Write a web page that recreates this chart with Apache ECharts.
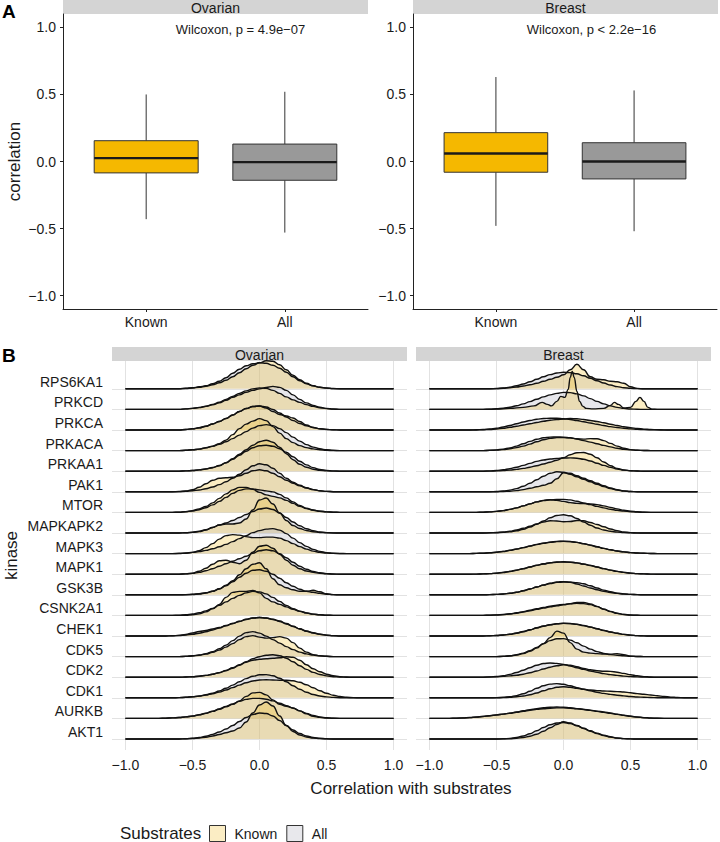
<!DOCTYPE html>
<html><head><meta charset="utf-8">
<script src="https://cdn.jsdelivr.net/npm/echarts@6.0.0/dist/echarts.min.js"></script>
<style>html,body{margin:0;padding:0;background:#fff}#c{width:720px;height:842px}</style>
</head><body><div id="c"></div>
<script>
// ---------------- data ----------------
const tissues = ['Ovarian', 'Breast'];
const boxGroups = ['Known', 'All'];
// [lower whisker, Q1, median, Q3, upper whisker]
const boxOvarianKnown = [-0.43, -0.085, 0.025, 0.155, 0.50];
const boxOvarianAll   = [-0.53, -0.14, -0.005, 0.13, 0.52];
const boxBreastKnown  = [-0.48, -0.08, 0.06, 0.215, 0.63];
const boxBreastAll    = [-0.52, -0.13, 0.0, 0.14, 0.53];
const wilcoxonLabels = ['Wilcoxon, p = 4.9e\u221207', 'Wilcoxon, p < 2.2e\u221216'];
const yTicksA = [-1, -0.5, 0, 0.5, 1];
const xTicksB = [-1, -0.5, 0, 0.5, 1];
const kinases = ['RPS6KA1','PRKCD','PRKCA','PRKACA','PRKAA1','PAK1','MTOR','MAPKAPK2','MAPK3','MAPK1','GSK3B','CSNK2A1','CHEK1','CDK5','CDK2','CDK1','AURKB','AKT1'];
const densityX = [-1,-0.95,-0.9,-0.85,-0.8,-0.75,-0.7,-0.65,-0.6,-0.55,-0.5,-0.45,-0.4,-0.35,-0.3,-0.25,-0.2,-0.15,-0.1,-0.05,0,0.05,0.1,0.15,0.2,0.25,0.3,0.35,0.4,0.45,0.5,0.55,0.6,0.65,0.7,0.75,0.8,0.85,0.9,0.95,1];

// density of each kinase (rows in kinases order) on densityX
const ovarianKnown = [
[0,0,0,0,0,0,0,0, 0,.03,.08,.15,.25,.4,.6,.85,1.2,1.6,2,2.35, 2.6,2.8,2.75,2.4,1.9,1.35,.9,.55,.3,.15,.07,.02, 0,0,0,0,0,0,0,0,0],
[0,0,0,0,0,0,0,0, 0,.05,.1,.2,.32,.5,.72,1,1.3,1.6,1.85,2.05, 2.15,2.1,1.9,1.6,1.25,.95,.7,.48,.3,.17,.08,.03, 0,0,0,0,0,0,0,0,0],
[0,0,0,0,0,0,0,0, 0,.05,.12,.22,.38,.6,.85,1.15,1.5,1.85,2.15,2.35, 2.4,2.2,1.85,1.55,1.4,1.2,.85,.5,.25,.12,.05,.02, 0,0,0,0,0,0,0,0,0],
[0,0,0,0,0,0,0,0, 0,.03,.08,.15,.28,.45,.7,1.05,1.6,2.2,2.65,2.95, 3.2,3,2.4,1.75,1.2,.8,.5,.3,.17,.08,.03,0, 0,0,0,0,0,0,0,0,0],
[0,0,0,0,0,0,0,0, 0,.03,.07,.13,.22,.35,.55,.85,1.25,1.7,2.15,2.6, 2.95,3.1,2.9,2.4,1.75,1.15,.7,.4,.2,.1,.04,.01, 0,0,0,0,0,0,0,0,0],
[0,0,0,0,0,0,0,0, .03,.08,.2,.45,.8,1.15,1.35,1.4,1.45,1.6,1.85,2.1, 2.2,2.1,1.85,1.5,1.15,.85,.6,.38,.22,.1,.04,.01, 0,0,0,0,0,0,0,0,0],
[0,0,0,0,0,0,0,0, .03,.08,.18,.35,.6,.95,1.4,1.85,2.25,2.5,2.5,2.3, 2,1.75,1.6,1.45,1.2,.9,.6,.38,.22,.12,.05,.02, 0,0,0,0,0,0,0,0,0],
[0,0,0,0,0,0,0,0, 0,.02,.06,.14,.3,.55,.8,.9,.9,1,1.4,2.3, 3.3,3.5,2.9,2,1.25,.75,.45,.25,.12,.05,.02,0, 0,0,0,0,0,0,0,0,0],
[0,0,0,0,0,0,0,0, 0,.04,.12,.3,.6,1,1.45,1.8,1.9,1.85,1.7,1.6, 1.6,1.65,1.65,1.55,1.3,1,.7,.45,.25,.12,.05,.02, 0,0,0,0,0,0,0,0,0],
[0,0,0,0,0,0,0,0, 0,.03,.1,.3,.6,1,1.35,1.4,1.2,1.05,1.4,2.2, 2.8,2.9,2.6,2,1.4,.9,.55,.32,.18,.09,.04,.01, 0,0,0,0,0,0,0,0,0],
[0,0,0,0,0,0,0,0, 0,0,.03,.08,.18,.35,.6,.95,1.4,2,2.6,3.05, 3.2,2.6,1.6,1,.7,.5,.35,.35,.45,.3,.1,.02, 0,0,0,0,0,0,0,0,0],
[0,0,0,0,0,0,0,0, 0,.02,.06,.15,.35,.65,1.1,1.8,2.3,2.4,2.4,2.5, 2.25,1.7,1.35,1.1,.85,.6,.4,.24,.13,.06,.02,0, 0,0,0,0,0,0,0,0,0],
[0,0,0,0,0,0,0,.02, .06,.15,.3,.45,.55,.7,.85,1.05,1.25,1.45,1.65,1.8, 1.85,1.8,1.65,1.45,1.2,.95,.7,.48,.3,.17,.08,.03, 0,0,0,0,0,0,0,0,0],
[0,0,0,0,0,0,0,0, 0,.02,.06,.13,.25,.42,.65,.95,1.3,1.7,2,2.1, 1.95,1.85,1.9,2,1.85,1.4,.85,.45,.2,.08,.03,0, 0,0,0,0,0,0,0,0,0],
[0,0,0,0,0,0,0,0, 0,.02,.05,.1,.18,.3,.45,.65,.9,1.2,1.5,1.7, 1.8,1.85,1.9,1.95,2.05,2,1.7,1.25,.85,.55,.3,.14, .05,.02,0,0,0,0,0,0,0],
[0,0,0,0,0,0,0,0, .02,.05,.1,.17,.27,.4,.57,.78,1.02,1.27,1.5,1.68, 1.78,1.8,1.78,1.75,1.75,1.7,1.55,1.3,1,.7,.45,.26, .13,.05,.02,0,0,0,0,0,0],
[0,0,0,0,0,0,.02,.05, .09,.15,.23,.35,.5,.7,.92,1.15,1.4,1.75,2.2,2.55, 2.6,2.35,1.85,1.4,1.2,1.05,.75,.45,.22,.1,.04,.01, 0,0,0,0,0,0,0,0,0],
[0,0,0,0,0,0,0,0, 0,.02,.05,.1,.18,.3,.45,.62,.8,1.1,1.7,2.6, 3.4,3.7,3.3,2.3,1.35,.75,.4,.2,.1,.04,.01,0, 0,0,0,0,0,0,0,0,0]
];
const ovarianAll = [
[0,0,0,0,0,0,0,0, 0,.05,.1,.2,.3,.5,.75,1.1,1.55,1.95,2.3,2.5, 2.6,2.55,2.35,2.05,1.65,1.2,.8,.5,.3,.15,.08,.03, 0,0,0,0,0,0,0,0,0],
[0,0,0,0,0,0,0,0, 0,.05,.1,.18,.3,.45,.65,.9,1.2,1.45,1.7,1.9, 2.05,2.2,2.3,2.2,1.9,1.45,1,.65,.4,.22,.1,.04, 0,0,0,0,0,0,0,0,0],
[0,0,0,0,0,0,0,0, 0,.05,.12,.22,.38,.6,.85,1.15,1.5,1.85,2.15,2.35, 2.4,2.3,2.05,1.7,1.3,.95,.65,.42,.25,.13,.06,.02, 0,0,0,0,0,0,0,0,0],
[0,0,0,0,0,0,0,0, 0,.03,.08,.15,.27,.42,.62,.88,1.2,1.55,1.9,2.25, 2.5,2.6,2.5,2.2,1.8,1.35,.95,.6,.35,.18,.08,.03, 0,0,0,0,0,0,0,0,0],
[0,0,0,0,0,0,0,0, 0,.03,.07,.13,.23,.37,.57,.85,1.2,1.6,2,2.35, 2.55,2.6,2.5,2.25,1.9,1.45,1,.63,.36,.18,.08,.03, 0,0,0,0,0,0,0,0,0],
[0,0,0,0,0,0,0,0, .02,.05,.1,.18,.3,.48,.72,1,1.35,1.75,2.2,2.6, 2.8,2.7,2.35,1.85,1.35,.95,.65,.4,.22,.1,.04,.01, 0,0,0,0,0,0,0,0,0],
[0,0,0,0,0,0,0,0, .02,.06,.14,.27,.47,.75,1.1,1.5,1.9,2.2,2.35,2.35, 2.25,2.15,2.05,1.8,1.45,1.05,.7,.42,.24,.12,.05,.02, 0,0,0,0,0,0,0,0,0],
[0,0,0,0,0,0,0,0, 0,.03,.08,.17,.33,.55,.8,1,1.25,1.55,1.85,2.15, 2.4,2.5,2.35,2,1.55,1.1,.72,.43,.23,.11,.04,.01, 0,0,0,0,0,0,0,0,0],
[0,0,0,0,0,0,0,0, .03,.06,.12,.2,.32,.48,.68,.92,1.2,1.5,1.8,2.1, 2.3,2.45,2.5,2.35,2,1.55,1.1,.72,.42,.22,.1,.04, .01,0,0,0,0,0,0,0,0],
[0,0,0,0,0,0,0,0, 0,.03,.08,.18,.34,.55,.8,1.05,1.3,1.55,1.8,2.1, 2.35,2.45,2.35,2.05,1.65,1.2,.8,.5,.28,.14,.06,.02, 0,0,0,0,0,0,0,0,0],
[0,0,0,0,0,0,0,0, 0,.02,.05,.11,.2,.35,.58,.9,1.3,1.75,2.15,2.45, 2.5,2.35,2.05,1.65,1.2,.85,.55,.35,.25,.15,.06,.02, 0,0,0,0,0,0,0,0,0],
[0,0,0,0,0,0,0,0, .03,.07,.14,.26,.45,.7,1,1.35,1.7,2,2.25,2.4, 2.35,2.15,1.8,1.4,1,.68,.43,.25,.13,.06,.02,0, 0,0,0,0,0,0,0,0,0],
[0,0,0,0,0,0,0,.02, .05,.1,.18,.28,.42,.6,.8,1.02,1.25,1.47,1.67,1.8, 1.85,1.8,1.68,1.5,1.25,.98,.72,.5,.32,.18,.09,.04, 0,0,0,0,0,0,0,0,0],
[0,0,0,0,0,0,0,0, 0,.03,.08,.16,.3,.5,.78,1.15,1.6,2.05,2.4,2.5, 2.35,2.05,1.7,1.35,1,.7,.45,.27,.15,.07,.03,0, 0,0,0,0,0,0,0,0,0],
[0,0,0,0,0,0,0,0, 0,.02,.05,.1,.18,.3,.46,.68,.95,1.25,1.55,1.85, 2.05,2.2,2.25,2.15,1.9,1.55,1.15,.78,.48,.27,.13,.05, .02,0,0,0,0,0,0,0,0],
[0,0,0,0,0,0,0,0, .02,.05,.1,.18,.3,.46,.68,.95,1.27,1.6,1.92,2.15, 2.3,2.32,2.2,1.95,1.6,1.2,.85,.55,.33,.18,.09,.04, .01,0,0,0,0,0,0,0,0],
[0,0,0,0,0,0,.02,.05, .09,.15,.24,.36,.52,.72,.95,1.2,1.45,1.7,1.9,2, 2,1.92,1.75,1.52,1.28,1.02,.75,.5,.3,.15,.06,.02, 0,0,0,0,0,0,0,0,0],
[0,0,0,0,0,0,0,0, 0,.03,.07,.15,.28,.46,.7,1,1.35,1.75,2.15,2.45, 2.6,2.55,2.3,1.85,1.35,.9,.55,.3,.15,.07,.03,0, 0,0,0,0,0,0,0,0,0]
];
const breastKnown = [
[0,0,0,0,0,0,0,0, 0,0,.02,.05,.1,.18,.28,.4,.55,.75,.95,1.15, 1.4,1.9,2.45,1.9,1.2,.95,.9,.75,.7,.55,.2,.04, 0,0,0,0,0,0,0,0,0],
null, // PRKCD: sharp, irregular curve, stored on its own grid below
[0,0,0,0,0,0,0,0, .02,.05,.1,.17,.27,.38,.5,.62,.75,.88,.98,1.05, 1.1,1.15,1.13,1.05,.95,.85,.72,.58,.45,.33,.23,.15, .09,.05,.03,.01,0,0,0,0,0],
[0,0,0,0,0,0,0,0, 0,.02,.05,.1,.18,.3,.45,.65,.88,1.08,1.22,1.3, 1.3,1.27,1.18,1.15,1.2,1.18,1,.72,.45,.24,.1,.04, .01,0,0,0,0,0,0,0,0],
[0,0,0,0,0,0,0,0, 0,.01,.03,.06,.11,.18,.28,.4,.55,.72,.9,1.1, 1.35,1.65,1.85,1.87,1.7,1.35,.92,.55,.28,.12,.05,.02, 0,0,0,0,0,0,0,0,0],
[0,0,0,0,0,0,0,0, 0,0,.01,.03,.06,.12,.22,.35,.5,.65,.85,1.3, 1.9,1.85,1.6,1.35,1.1,.85,.6,.38,.2,.09,.03,0, 0,0,0,0,0,0,0,0,0],
[0,0,0,0,0,0,0,0, .02,.05,.1,.18,.3,.45,.65,.85,1.05,1.2,1.27,1.22, 1.1,.98,.9,.88,.85,.78,.65,.5,.35,.22,.12,.06, .02,0,0,0,0,0,0,0,0],
[0,0,0,0,0,0,0,0, 0,.02,.05,.1,.18,.3,.47,.68,.9,1.1,1.22,1.2, 1.12,1.15,1.25,1.22,1.05,.85,.62,.4,.22,.1,.04,.01, 0,0,0,0,0,0,0,0,0],
[0,0,0,0,0,0,0,.02, .04,.07,.13,.21,.32,.45,.6,.76,.92,1.05,1.15,1.22, 1.24,1.21,1.12,.99,.84,.68,.52,.38,.26,.17,.1,.06, .03,.01,0,0,0,0,0,0,0],
[0,0,0,0,0,0,0,.01, .03,.06,.1,.17,.27,.4,.55,.72,.89,1.04,1.15,1.22, 1.24,1.21,1.13,1.01,.87,.72,.56,.41,.28,.18,.11,.06, .03,.01,0,0,0,0,0,0,0],
[0,0,0,0,0,0,0,0, 0,.02,.04,.08,.15,.25,.4,.58,.78,.98,1.15,1.28, 1.32,1.25,1.08,.88,.68,.5,.35,.23,.14,.08,.04,.02, 0,0,0,0,0,0,0,0,0],
[0,0,0,0,0,0,0,0, 0,.02,.04,.08,.14,.22,.33,.46,.6,.73,.85,.95, 1.05,1.18,1.3,1.3,1.15,.9,.62,.38,.2,.09,.03,.01, 0,0,0,0,0,0,0,0,0],
[0,0,0,0,0,0,0,0, 0,.02,.05,.1,.17,.28,.42,.6,.8,.98,1.12,1.22, 1.27,1.25,1.17,1.05,.9,.73,.56,.4,.27,.16,.09,.04, .01,0,0,0,0,0,0,0,0],
[0,0,0,0,0,0,0,0, 0,0,0,.02,.06,.15,.3,.52,.85,1.3,1.9,2.55, 2.35,1.4,.75,.45,.35,.3,.25,.25,.3,.2,.05,.01, 0,0,0,0,0,0,0,0,0],
[0,0,0,0,0,0,0,0, 0,.02,.04,.08,.13,.2,.3,.45,.62,.82,1,1.15, 1.25,1.2,1.05,.88,.75,.65,.6,.58,.5,.38,.25,.14, .06,.02,0,0,0,0,0,0,0],
[0,0,0,0,0,0,0,0, 0,0,0,.02,.05,.1,.18,.3,.48,.7,.9,1.05, 1.1,1.05,.95,.85,.78,.72,.68,.65,.62,.58,.5,.42, .35,.28,.2,.13,.07,.03,.01,0,0],
[0,0,0,0,.02,.05,.09,.14, .2,.27,.35,.43,.52,.62,.72,.82,.9,.97,1.02,1.05, 1.05,1.02,.97,.9,.82,.73,.64,.54,.43,.32,.22,.14, .08,.04,.02,0,0,0,0,0,0],
[0,0,0,0,0,0,0,0, 0,0,0,.01,.03,.07,.15,.28,.48,.78,1.12,1.45, 1.72,1.6,1.35,1.08,.82,.58,.38,.22,.1,.04,.01,0, 0,0,0,0,0,0,0,0,0]
];
const breastKnownPrkcdX = [-1,-0.6,-0.5,-0.4,-0.3,-0.22,-0.16,-0.12,-0.09,-0.05,-0.02,0.01,0.035,0.05,0.065,0.08,0.1,0.12,0.145,0.17,0.22,0.3,0.35,0.38,0.41,0.45,0.5,0.54,0.57,0.6,0.63,0.66,0.7,1];
const breastKnownPrkcdY = [0,0,.03,.1,.2,.35,.7,.5,.35,.8,1.3,1.2,2,3.2,3.8,3.2,1.8,.8,.3,.1,.05,.1,.4,.7,.5,.15,.2,.8,1.2,.8,.2,.02,0,0];
const breastAll = [
[0,0,0,0,0,0,0,0, 0,0,.03,.08,.17,.3,.48,.7,.95,1.2,1.42,1.58, 1.65,1.62,1.5,1.3,1.05,.8,.58,.38,.22,.11,.05,.02, 0,0,0,0,0,0,0,0,0],
[0,0,0,0,0,0,0,0, 0,.02,.06,.12,.22,.36,.55,.78,1.02,1.25,1.45,1.6, 1.7,1.68,1.55,1.35,1.08,.8,.55,.35,.2,.1,.04,.01, 0,0,0,0,0,0,0,0,0],
[0,0,0,0,0,0,0,.02, .05,.1,.18,.3,.45,.62,.8,.95,1.07,1.15,1.18,1.17, 1.12,1.05,.95,.83,.7,.58,.45,.34,.25,.17,.11,.07, .04,.02,.01,0,0,0,0,0,0],
[0,0,0,0,0,0,0,0, 0,.03,.07,.15,.27,.45,.68,.92,1.13,1.28,1.35,1.37, 1.35,1.28,1.15,1,.85,.68,.52,.37,.24,.14,.07,.03, .01,0,0,0,0,0,0,0,0],
[0,0,0,0,0,0,0,0, 0,.03,.07,.14,.25,.4,.58,.78,.98,1.12,1.22,1.28, 1.32,1.33,1.3,1.2,1.02,.8,.58,.38,.22,.11,.05,.02, 0,0,0,0,0,0,0,0,0],
[0,0,0,0,0,0,0,0, 0,0,.03,.08,.17,.32,.55,.85,1.2,1.55,1.85,2, 1.95,1.75,1.5,1.25,1,.75,.52,.33,.18,.08,.03,0, 0,0,0,0,0,0,0,0,0],
[0,0,0,0,0,0,0,0, .02,.05,.1,.18,.3,.45,.65,.85,1.05,1.18,1.25,1.3, 1.3,1.25,1.12,.95,.78,.6,.45,.32,.21,.13,.07,.03, .01,0,0,0,0,0,0,0,0],
[0,0,0,0,0,0,0,0, 0,.01,.03,.06,.12,.22,.38,.6,.88,1.2,1.52,1.75, 1.82,1.72,1.45,1.1,.78,.5,.3,.17,.09,.04,.01,0, 0,0,0,0,0,0,0,0,0],
[0,0,0,0,0,0,0,.02, .04,.08,.14,.22,.33,.46,.6,.75,.9,1.03,1.13,1.2, 1.22,1.2,1.12,1,.85,.68,.52,.38,.26,.17,.1,.06, .03,.01,0,0,0,0,0,0,0],
[0,0,0,0,0,0,0,.01, .03,.06,.11,.18,.28,.41,.56,.72,.88,1.02,1.13,1.2, 1.22,1.2,1.13,1.02,.88,.72,.56,.41,.28,.18,.11,.06, .03,.01,0,0,0,0,0,0,0],
[0,0,0,0,0,0,0,0, 0,.02,.04,.08,.15,.25,.4,.58,.78,.97,1.13,1.24, 1.28,1.27,1.22,1.1,.9,.68,.47,.3,.17,.09,.04,.02, 0,0,0,0,0,0,0,0,0],
[0,0,0,0,0,0,0,0, 0,.02,.05,.09,.16,.26,.38,.52,.66,.8,.92,1.02, 1.1,1.16,1.2,1.18,1.08,.88,.63,.4,.22,.1,.04,.01, 0,0,0,0,0,0,0,0,0],
[0,0,0,0,0,0,0,0, 0,.02,.05,.1,.18,.3,.45,.63,.82,1,1.13,1.22, 1.26,1.24,1.16,1.04,.89,.72,.55,.4,.27,.16,.09,.04, .01,0,0,0,0,0,0,0,0],
[0,0,0,0,0,0,0,0, 0,0,0,.03,.08,.18,.35,.6,.92,1.28,1.6,1.78, 1.8,1.65,1.38,1.05,.75,.5,.32,.2,.14,.08,.03,.01, 0,0,0,0,0,0,0,0,0],
[0,0,0,0,0,0,0,0, 0,.03,.07,.15,.28,.47,.7,.95,1.2,1.37,1.42,1.38, 1.28,1.12,.95,.78,.62,.48,.36,.26,.18,.11,.06,.03, .01,0,0,0,0,0,0,0,0],
[0,0,0,0,0,0,0,0, 0,0,.02,.05,.11,.22,.4,.65,.95,1.2,1.37,1.42, 1.35,1.2,1.02,.85,.7,.56,.44,.34,.26,.19,.13,.08, .05,.03,.01,0,0,0,0,0,0],
[0,0,0,0,.02,.04,.08,.13, .19,.26,.34,.43,.53,.64,.76,.88,.98,1.06,1.12,1.14, 1.12,1.06,.98,.89,.8,.7,.6,.5,.4,.3,.21,.13, .07,.03,.01,0,0,0,0,0,0],
[0,0,0,0,0,0,0,0, 0,0,0,.02,.06,.15,.3,.52,.82,1.15,1.42,1.6, 1.65,1.55,1.32,1.05,.78,.54,.34,.19,.09,.04,.01,0, 0,0,0,0,0,0,0,0,0]
];

// ---------------- styling ----------------
const FONT = '"Liberation Sans", Arial, Helvetica, sans-serif';
const TXT = '#1a1a1a';
const knownFill = 'rgba(242,190,40,0.28)';
const allFill = 'rgba(185,185,196,0.34)';
const boxColors = ['#F5B800', '#999999'];
const heightScale = 0.4854; // rows per density unit
const fmt = v => (v < 0 ? '\u2212' : '') + Math.abs(v).toFixed(1);
const rowValues = kinases.map((k, i) => kinases.length - i);

const chart = echarts.init(document.getElementById('c'), null, {renderer: 'svg'});

function boxSeries(g, rows) {
  return {
    type: 'custom', xAxisIndex: g, yAxisIndex: g, silent: true, animation: false, clip: false,
    data: rows.map((r, i) => [i + 1].concat(r)),
    encode: {x: 0, y: [1, 2, 3, 4, 5]},
    renderItem(params, api) {
      const x = api.value(0);
      const lo = api.coord([x, api.value(1)]);
      const q1 = api.coord([x, api.value(2)]);
      const md = api.coord([x, api.value(3)]);
      const q3 = api.coord([x, api.value(4)]);
      const hi = api.coord([x, api.value(5)]);
      const w = api.size([0.75, 0])[0];
      const cx = lo[0];
      return {type: 'group', children: [
        {type: 'line', shape: {x1: cx, y1: hi[1], x2: cx, y2: q3[1]}, style: {stroke: '#333', lineWidth: 1}},
        {type: 'line', shape: {x1: cx, y1: q1[1], x2: cx, y2: lo[1]}, style: {stroke: '#333', lineWidth: 1}},
        {type: 'rect', shape: {x: cx - w / 2, y: q3[1], width: w, height: q1[1] - q3[1]}, style: {fill: boxColors[x - 1], stroke: '#333', lineWidth: 1}},
        {type: 'line', shape: {x1: cx - w / 2, y1: md[1], x2: cx + w / 2, y2: md[1]}, style: {stroke: '#1a1a1a', lineWidth: 2.4}}
      ]};
    }
  };
}

function curve(xs, ys, base) { return xs.map((x, j) => [x, base + ys[j] * heightScale]); }
function ridge(name, g, data, base) {
  return {
    type: 'line', name, xAxisIndex: 2 + g, yAxisIndex: 2 + g, data,
    smooth: 0.45, smoothMonotone: 'x', symbol: 'none', showSymbol: false, clip: false,
    silent: true, animation: false, emphasis: {disabled: true},
    lineStyle: {color: '#111', width: 1.4},
    itemStyle: {color: name === 'Known' ? knownFill : allFill},
    areaStyle: {color: name === 'Known' ? knownFill : allFill, opacity: 1, origin: base}
  };
}

const series = [
  boxSeries(0, [boxOvarianKnown, boxOvarianAll]),
  boxSeries(1, [boxBreastKnown, boxBreastAll])
];
tissues.forEach((t, g) => {
  const K = g === 0 ? ovarianKnown : breastKnown;
  const A = g === 0 ? ovarianAll : breastAll;
  kinases.forEach((k, i) => {
    const base = rowValues[i];
    series.push(ridge('All', g, curve(densityX, A[i], base), base));
    const kd = K[i] ? curve(densityX, K[i], base) : curve(breastKnownPrkcdX, breastKnownPrkcdY, base);
    series.push(ridge('Known', g, kd, base));
  });
});

const axisLineA = {show: true, onZero: false, lineStyle: {color: '#222', width: 1}};
const labelA = {fontFamily: FONT, fontSize: 14, color: TXT};
function xAxisA(g) {
  return {type: 'value', gridIndex: g, min: 0.4, max: 2.6, axisLine: axisLineA,
    axisTick: {show: true, length: 3, customValues: [1, 2], lineStyle: {color: '#222'}},
    axisLabel: Object.assign({customValues: [1, 2], formatter: v => boxGroups[Math.round(v) - 1], margin: 6}, labelA),
    splitLine: {show: false}};
}
function yAxisA(g) {
  const ax = {type: 'value', gridIndex: g, min: -1.1, max: 1.1, axisLine: axisLineA,
    axisTick: {show: true, length: 3, customValues: yTicksA, lineStyle: {color: '#222'}},
    axisLabel: Object.assign({customValues: yTicksA, formatter: fmt, margin: 7}, labelA),
    splitLine: {show: false}};
  if (g === 0) Object.assign(ax, {name: 'correlation', nameLocation: 'middle', nameGap: 40,
    nameTextStyle: {fontFamily: FONT, fontSize: 17, color: TXT}});
  return ax;
}
function xAxisB(g) {
  return {type: 'value', gridIndex: 2 + g, min: -1.1, max: 1.1, axisLine: {show: false},
    axisTick: {show: false, customValues: xTicksB},
    axisLabel: Object.assign({customValues: xTicksB, formatter: fmt, margin: 8}, labelA),
    splitLine: {show: true, lineStyle: {color: '#e2e2e2', width: 1}}};
}
function yAxisB(g) {
  const ax = {type: 'value', gridIndex: 2 + g, min: 0.466, max: 19.35, axisLine: {show: false},
    axisTick: {show: false, customValues: rowValues},
    axisLabel: Object.assign({show: g === 0, customValues: rowValues, margin: 9, verticalAlign: 'bottom',
      formatter: v => kinases[kinases.length - Math.round(v)]}, labelA),
    splitLine: {show: true, lineStyle: {color: '#e2e2e2', width: 1}}};
  if (g === 0) Object.assign(ax, {name: 'kinase', nameLocation: 'middle', nameGap: 92,
    nameTextStyle: {fontFamily: FONT, fontSize: 17, color: TXT}});
  return ax;
}

function strip(x, y, w, label) {
  return [
    {type: 'rect', shape: {x, y, width: w, height: 14}, style: {fill: '#d4d4d4'}, silent: true},
    {type: 'text', style: {text: label, x: x + w / 2, y: y + 7.5, align: 'center', verticalAlign: 'middle',
      font: '14px ' + FONT, fill: TXT}, silent: true}
  ];
}

const graphic = [].concat(
  strip(63, 0, 305, tissues[0]), strip(413, 0, 305, tissues[1]),
  strip(112, 347, 295, tissues[0]), strip(416, 347, 295, tissues[1]),
  [
    {type: 'text', style: {text: 'A', x: 2, y: 11, verticalAlign: 'middle', font: 'bold 19px ' + FONT, fill: '#000'}},
    {type: 'text', style: {text: 'B', x: 2, y: 355, verticalAlign: 'middle', font: 'bold 19px ' + FONT, fill: '#000'}},
    {type: 'text', style: {text: wilcoxonLabels[0], x: 240.5, y: 29, align: 'center', verticalAlign: 'middle', font: '13px ' + FONT, fill: TXT}},
    {type: 'text', style: {text: wilcoxonLabels[1], x: 591.5, y: 29, align: 'center', verticalAlign: 'middle', font: '13px ' + FONT, fill: TXT}},
    {type: 'text', style: {text: 'Correlation with substrates', x: 411, y: 788, align: 'center', verticalAlign: 'middle', font: '17px ' + FONT, fill: TXT}},
    {type: 'text', style: {text: 'Substrates', x: 120, y: 833, align: 'left', verticalAlign: 'middle', font: '17px ' + FONT, fill: TXT}}
  ]
);

chart.setOption({
  animation: false,
  backgroundColor: '#fff',
  textStyle: {fontFamily: FONT},
  grid: [
    {left: 63, top: 14, width: 305, height: 295},
    {left: 413, top: 14, width: 304, height: 295},
    {left: 112, top: 361, width: 295, height: 389},
    {left: 416, top: 361, width: 295, height: 389}
  ],
  xAxis: [xAxisA(0), xAxisA(1), xAxisB(0), xAxisB(1)],
  yAxis: [yAxisA(0), yAxisA(1), yAxisB(0), yAxisB(1)],
  legend: {left: 209, top: 825, padding: 0, itemWidth: 16, itemHeight: 16, itemGap: 9, icon: 'rect', selectedMode: false,
    textStyle: {fontFamily: FONT, fontSize: 14, color: TXT, padding: [0, 0, 0, 4]},
    data: [
      {name: 'Known', itemStyle: {color: '#fbedc4', borderColor: '#333', borderWidth: 1}},
      {name: 'All', itemStyle: {color: '#e8e8ec', borderColor: '#333', borderWidth: 1}}
    ]},
  graphic,
  series
});
</script></body></html>
